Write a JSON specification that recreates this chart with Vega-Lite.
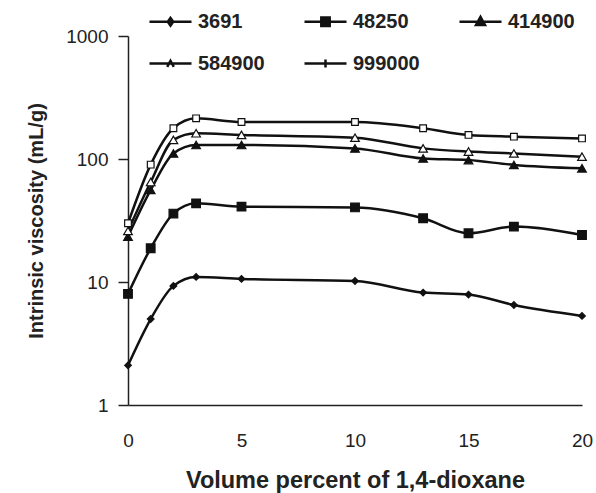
{
  "$schema": "https://vega.github.io/schema/vega-lite/v6.json",
  "width": 454,
  "height": 369,
  "autosize": {"type": "none"},
  "padding": {"left": 128, "top": 36, "right": 14, "bottom": 88},
  "background": "white",
  "config": {
    "view": {"stroke": null},
    "font": "Liberation Sans",
    "axis": {"grid": false, "domainColor": "#222", "domainWidth": 1.5, "tickColor": "#222", "tickWidth": 1.5, "labelColor": "#222", "labelFont": "Liberation Sans", "labelFontSize": 19, "titleColor": "#222", "titleFont": "Liberation Sans", "titleFontWeight": "bold"}
  },
  "data": {
    "values": [
      {"series": "3691", "x": 0, "y": 2.1},
      {"series": "3691", "x": 1, "y": 5.0},
      {"series": "3691", "x": 2, "y": 9.3},
      {"series": "3691", "x": 3, "y": 11.0},
      {"series": "3691", "x": 5, "y": 10.6},
      {"series": "3691", "x": 10, "y": 10.2},
      {"series": "3691", "x": 13, "y": 8.2},
      {"series": "3691", "x": 15, "y": 7.9},
      {"series": "3691", "x": 17, "y": 6.5},
      {"series": "3691", "x": 20, "y": 5.3},
      {"series": "48250", "x": 0, "y": 8.0},
      {"series": "48250", "x": 1, "y": 18.8},
      {"series": "48250", "x": 2, "y": 36},
      {"series": "48250", "x": 3, "y": 43.6},
      {"series": "48250", "x": 5, "y": 41},
      {"series": "48250", "x": 10, "y": 40.4},
      {"series": "48250", "x": 13, "y": 33},
      {"series": "48250", "x": 15, "y": 24.9},
      {"series": "48250", "x": 17, "y": 28.2},
      {"series": "48250", "x": 20, "y": 24.1},
      {"series": "414900", "x": 0, "y": 23.4},
      {"series": "414900", "x": 1, "y": 56},
      {"series": "414900", "x": 2, "y": 111},
      {"series": "414900", "x": 3, "y": 130},
      {"series": "414900", "x": 5, "y": 130},
      {"series": "414900", "x": 10, "y": 122},
      {"series": "414900", "x": 13, "y": 101},
      {"series": "414900", "x": 15, "y": 98},
      {"series": "414900", "x": 17, "y": 89.5},
      {"series": "414900", "x": 20, "y": 84},
      {"series": "584900", "x": 0, "y": 26},
      {"series": "584900", "x": 1, "y": 65},
      {"series": "584900", "x": 2, "y": 143},
      {"series": "584900", "x": 3, "y": 162},
      {"series": "584900", "x": 5, "y": 157},
      {"series": "584900", "x": 10, "y": 149},
      {"series": "584900", "x": 13, "y": 122},
      {"series": "584900", "x": 15, "y": 115},
      {"series": "584900", "x": 17, "y": 111},
      {"series": "584900", "x": 20, "y": 104.5},
      {"series": "999000", "x": 0, "y": 30},
      {"series": "999000", "x": 1, "y": 90},
      {"series": "999000", "x": 2, "y": 178},
      {"series": "999000", "x": 3, "y": 214},
      {"series": "999000", "x": 5, "y": 200},
      {"series": "999000", "x": 10, "y": 200},
      {"series": "999000", "x": 13, "y": 178},
      {"series": "999000", "x": 15, "y": 157},
      {"series": "999000", "x": 17, "y": 152},
      {"series": "999000", "x": 20, "y": 147}
    ]
  },
  "encoding": {
    "x": {"field": "x", "type": "quantitative", "scale": {"domain": [0, 20], "nice": false, "zero": false},
      "axis": {"values": [0, 5, 10, 15, 20], "ticks": false, "labelPadding": 26, "title": "Volume percent of 1,4-dioxane", "titleFontSize": 23.5, "titlePadding": 18, "labelFlush": false}},
    "y": {"field": "y", "type": "quantitative", "scale": {"type": "log", "domain": [1, 1000], "nice": false},
      "axis": {"values": [1, 10, 100, 1000], "format": ".0f", "tickSize": 10, "labelPadding": 10, "title": "Intrinsic viscosity (mL/g)", "titleFontSize": 20, "titlePadding": 19}}
  },
  "resolve": {"scale": {"shape": "independent"}, "legend": {"shape": "independent"}},
  "layer": [
    {
      "mark": {"type": "line", "color": "#111", "strokeWidth": 2.5, "interpolate": "monotone"},
      "encoding": {"detail": {"field": "series"}}
    },
    {
      "mark": {"type": "point", "filled": true, "opacity": 1, "stroke": "#111", "strokeWidth": 1.2},
      "encoding": {
        "shape": {"condition": [
          {"test": "datum.series === '3691'", "value": "diamond"},
          {"test": "datum.series === '48250'", "value": "square"},
          {"test": "datum.series === '414900'", "value": "triangle-up"},
          {"test": "datum.series === '584900'", "value": "triangle-up"}
        ], "value": "square"},
        "size": {"condition": [
          {"test": "datum.series === '3691'", "value": 45},
          {"test": "datum.series === '999000'", "value": 45}
        ], "value": 75},
        "fill": {"condition": {"test": "datum.series === '584900' || datum.series === '999000'", "value": "white"}, "value": "#111"}
      }
    },
    {
      "mark": {"type": "point", "filled": false, "opacity": 0, "color": "#111", "strokeWidth": 2.5},
      "encoding": {
        "shape": {"field": "series", "type": "nominal",
          "scale": {"domain": ["3691", "48250", "414900", "584900", "999000"],
            "range": [
              "M-1.4,0H1.4M0,-0.25L0.18,0L0,0.25L-0.18,0Z",
              "M-1.4,0H1.4M-0.28,-0.28H0.28V0.28H-0.28ZM-0.28,-0.14H0.28M-0.28,0.14H0.28",
              "M-1.4,0H1.4M0,-0.33L0.3,0.22H-0.3ZM-0.2,0.1H0.2M-0.1,-0.08H0.1",
              "M-1.4,0H1.4M-0.22,0.22L0,-0.18L0.22,0.22",
              "M-1.4,0H1.4M0,-0.27V0.27"
            ]},
          "legend": {
            "orient": "none", "legendX": 26, "legendY": -31, "direction": "horizontal", "columns": 3, "gridAlign": "all",
            "title": null, "symbolSize": 900, "labelFont": "Liberation Sans", "labelFontSize": 20, "labelFontWeight": "bold", "labelColor": "#222",
            "labelOffset": 11, "columnPadding": 34, "rowPadding": 15, "symbolStrokeWidth": 2.5, "symbolOpacity": 1,
            "symbolFillColor": "#111", "symbolStrokeColor": "#111",
            "encode": {"symbols": {"opacity": {"value": 1}, "fill": {"value": "#111"}, "stroke": {"value": "#111"}, "strokeWidth": {"value": 2.5}}}
          }}
      }
    }
  ]
}
